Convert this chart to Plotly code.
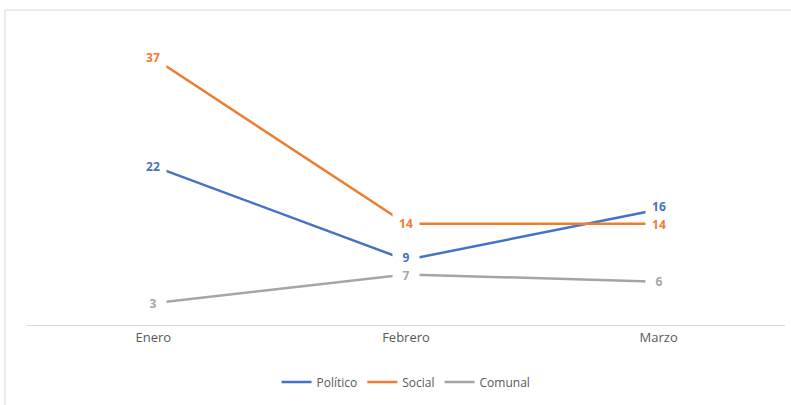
import plotly.graph_objects as go

months = ["Enero", "Febrero", "Marzo"]
politico = [22, 9, 16]
social = [37, 14, 14]
comunal = [3, 7, 6]

series = [
    ("Político", politico, "#4472C4"),
    ("Social", social, "#ED7D31"),
    ("Comunal", comunal, "#A5A5A5"),
]

# small vertical nudges for crowded labels (pixels)
nudge = {("Político", "Febrero"): 2, ("Político", "Marzo"): 3,
         ("Comunal", "Febrero"): -1, ("Social", "Marzo"): -1}

fig = go.Figure()
for name, vals, col in series:
    fig.add_trace(go.Scatter(x=months, y=vals, name=name, mode="lines",
                             line=dict(color=col, width=2.5)))

for name, vals, col in series:
    for m, v in zip(months, vals):
        fig.add_annotation(x=m, y=v, text=str(v), showarrow=False,
                           font=dict(family="Open Sans", size=12, color=col, weight="bold"),
                           bgcolor="white", borderpad=1, width=24,
                           xanchor="center", yanchor="middle",
                           yshift=nudge.get((name, m), 0))

# chart border (top and left visible)
fig.add_shape(type="rect", xref="paper", yref="paper",
              x0=-0.029, x1=1.2, y0=-0.5, y1=1.09,
              line=dict(color="#D9D9D9", width=1), layer="below")

fig.update_layout(
    width=791, height=405,
    margin=dict(l=27, r=6, t=36, b=80),
    paper_bgcolor="white", plot_bgcolor="white",
    font=dict(family="Open Sans", color="#595959"),
    xaxis=dict(range=[-0.5, 2.5], showgrid=False, zeroline=False,
               showline=True, linecolor="#D9D9D9", linewidth=1,
               ticks="", tickfont=dict(size=13, color="#595959")),
    yaxis=dict(range=[0, 40], visible=False),
    showlegend=True,
    legend=dict(orientation="h", x=0.5, xanchor="center", y=-0.197, yanchor="middle",
                font=dict(size=12, color="#595959"), itemwidth=30),
)

fig.write_html("out.html")
